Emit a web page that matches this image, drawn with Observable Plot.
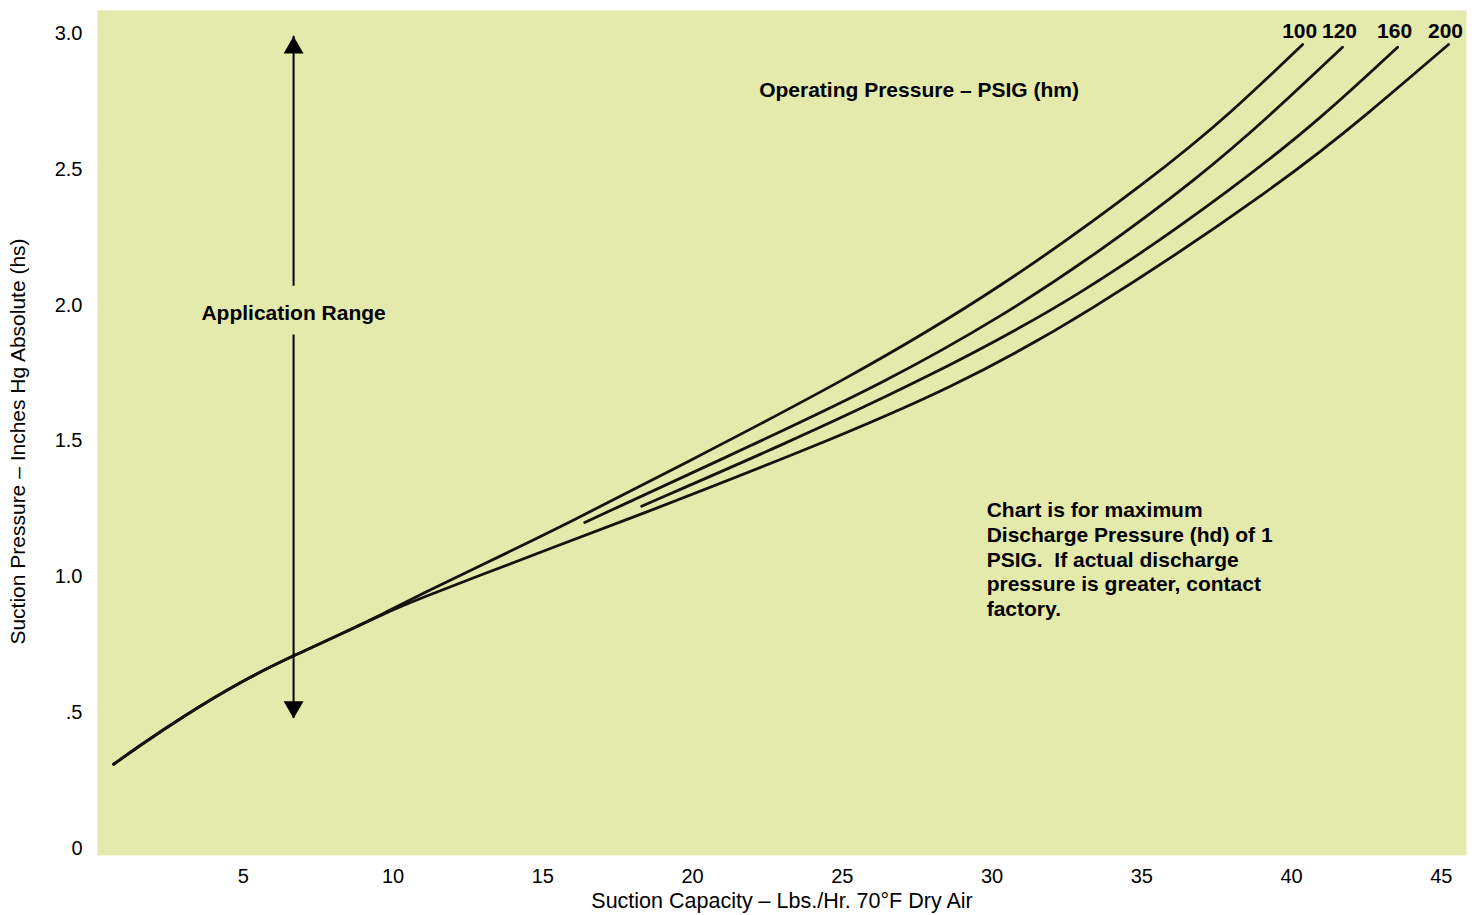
<!DOCTYPE html>
<html>
<head>
<meta charset="utf-8">
<script src="https://cdn.jsdelivr.net/npm/d3@7"></script>
<script src="https://cdn.jsdelivr.net/npm/@observablehq/plot@0.6"></script>
<style>
  html, body { margin: 0; padding: 0; background: #ffffff; }
  #chart svg { display: block; }
</style>
</head>
<body>
<div id="chart"></div>
<script>
// ---------- data ----------
const pressures = ["100", "120", "160", "200"];

// shared low-capacity segment (all pressures coincide)
const commonX = [0.67, 1.5, 2.9, 5.0, 6.68, 8.48, 9.6];
const commonY = [0.31, 0.375, 0.48, 0.62, 0.71, 0.80, 0.86];

const x100 = [11.0, 12.9, 15.9, 19.6, 25.04, 30.28, 35.5, 38.0, 40.37];
const y100 = [0.94, 1.04, 1.20, 1.41, 1.72, 2.06, 2.48, 2.71, 2.96];

const x120 = [16.4, 22.0, 26.5, 30.28, 33.5, 36.9, 39.3, 41.7];
const y120 = [1.20, 1.485, 1.72, 1.955, 2.19, 2.47, 2.70, 2.95];

const x160 = [18.3, 23.0, 27.6, 32.95, 38.3, 41.0, 43.54];
const y160 = [1.26, 1.485, 1.72, 2.03, 2.45, 2.69, 2.95];

const x200 = [11.0, 12.9, 15.26, 17.7, 24.0, 28.6, 32.95, 39.7, 42.6, 45.24];
const y200 = [0.925, 1.005, 1.105, 1.205, 1.476, 1.692, 1.95, 2.45, 2.71, 2.96];

const xTicks = [5, 10, 15, 20, 25, 30, 35, 40, 45];
const yTicks = [0, 0.5, 1.0, 1.5, 2.0, 2.5, 3.0];
const yTickLabels = ["0", ".5", "1.0", "1.5", "2.0", "2.5", "3.0"];

const xTitle = "Suction Capacity – Lbs./Hr. 70°F Dry Air";
const yTitle = "Suction Pressure – Inches Hg Absolute (hs)";
const pressureTitle = "Operating Pressure – PSIG (hm)";
const rangeLabel = "Application Range";
const noteText = "Chart is for maximum\nDischarge Pressure (hd) of 1\nPSIG.  If actual discharge\npressure is greater, contact\nfactory.";

// annotation anchors (data units)
const arrowX = 6.68;
const arrowTop = 2.99;
const arrowBottom = 0.478;
const gapTop = 2.07;
const gapBottom = 1.89;
const rangeLabelY = 1.97;
const pressureTitleX = 32.9;
const pressureTitleY = 2.79;
const endLabelY = 3.008;
const noteX = 29.82;
const noteY = 1.285;

// ---------- build table ----------
const series = {
  "100": {x: commonX.concat(x100), y: commonY.concat(y100)},
  "120": {x: x120, y: y120},
  "160": {x: x160, y: y160},
  "200": {x: commonX.concat(x200), y: commonY.concat(y200)}
};
const rows = [];
for (const p of pressures) {
  const s = series[p];
  s.x.forEach((xv, i) => rows.push({pressure: p, cap: xv, hs: s.y[i]}));
}
const ends = pressures.map(p => {
  const s = series[p];
  return {pressure: p, cap: s.x[s.x.length - 1]};
});

const font = "'Liberation Sans', Arial, Helvetica, sans-serif";

const chart = Plot.plot({
  width: 1477,
  height: 915,
  marginLeft: 97,
  marginRight: 11,
  marginTop: 10,
  marginBottom: 60,
  style: {fontFamily: font, fontSize: "20px", color: "#000", background: "#fff"},
  x: {domain: [0.1336, 45.84]},
  y: {domain: [-0.026, 3.085]},
  marks: [
    Plot.frame({fill: "#e4eaac", stroke: null}),
    Plot.axisX({ticks: xTicks, tickSize: 0, tickPadding: 13, fontSize: 20, label: null}),
    Plot.axisY({
      ticks: yTicks, tickSize: 0, tickPadding: 15, fontSize: 20,
      tickFormat: d => yTickLabels[yTicks.indexOf(d)], label: null
    }),
    Plot.text([xTitle], {frameAnchor: "bottom", text: d => d, textAnchor: "middle", lineAnchor: "middle", dy: 46, fontSize: 21.5, fill: "#000"}),
    Plot.text([yTitle], {frameAnchor: "left", text: d => d, textAnchor: "middle", lineAnchor: "middle", rotate: -90, dx: -79, dy: 8.5, fontSize: 21, fill: "#000"}),
    Plot.line(rows, {
      x: "cap", y: "hs", z: "pressure",
      stroke: "#14140f", strokeWidth: 2.8, curve: "basis"
    }),
    Plot.text(ends, {
      x: "cap", y: endLabelY, text: "pressure", dx: -3,
      fontWeight: "bold", fontSize: 21, fill: "#000"
    }),
    // application range arrow
    Plot.ruleX([arrowX], {y1: gapTop, y2: arrowTop, stroke: "#000", strokeWidth: 2}),
    Plot.ruleX([arrowX], {y1: arrowBottom, y2: gapBottom, stroke: "#000", strokeWidth: 2}),
    Plot.dot([{x: arrowX, y: arrowTop}], {x: "x", y: "y", symbol: "triangle", r: 7.4, fill: "#000", dy: 11.5}),
    Plot.dot([{x: arrowX, y: arrowBottom}], {x: "x", y: "y", symbol: "triangle", r: 7.4, fill: "#000", rotate: 180, dy: -11.5}),
    Plot.text([rangeLabel], {x: arrowX, y: rangeLabelY, text: d => d, fontWeight: "bold", fontSize: 21, fill: "#000"}),
    Plot.text([pressureTitle], {x: pressureTitleX, y: pressureTitleY, text: d => d, textAnchor: "end", fontWeight: "bold", fontSize: 21, fill: "#000"}),
    Plot.text([noteText], {
      x: noteX, y: noteY, text: d => d, textAnchor: "start", lineAnchor: "top",
      lineHeight: 1.18, fontWeight: "bold", fontSize: 21, fill: "#000"
    })
  ]
});
document.getElementById("chart").appendChild(chart);
</script>
</body>
</html>
